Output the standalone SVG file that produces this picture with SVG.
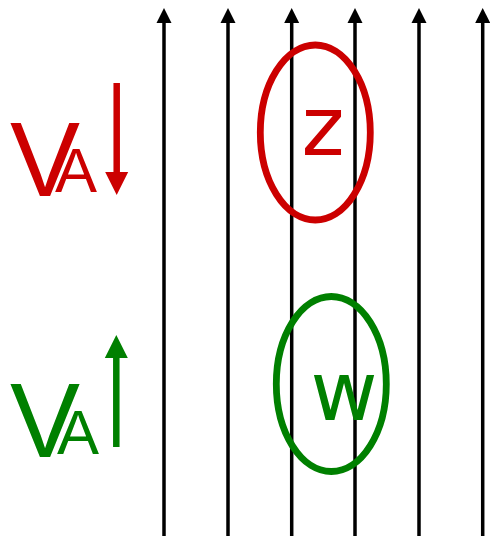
<svg xmlns="http://www.w3.org/2000/svg" width="490" height="536" viewBox="0 0 490 536">
<style>
.fl{stroke:#000;stroke-width:3.5;fill:none}
.t{font-family:"DejaVu Sans",sans-serif}
.s{font-family:"Liberation Sans",Arial,sans-serif}
.red{fill:#cc0000}
.grn{fill:#008000}
.big{font-size:105px}
.sub{font-size:63px}
</style>
<rect width="490" height="536" fill="#fff"/>
<g id="connectors">
<line class="fl" x1="164" y1="536" x2="164" y2="22"/>
<path d="M156.5,23 L164,8 L171.5,23 Z"/>
<line class="fl" x1="228" y1="536" x2="228" y2="22"/>
<path d="M220.5,23 L228,8 L235.5,23 Z"/>
<line class="fl" x1="291.7" y1="536" x2="291.7" y2="22"/>
<path d="M284.2,23 L291.7,8 L299.2,23 Z"/>
<line class="fl" x1="355" y1="536" x2="355" y2="22"/>
<path d="M347.5,23 L355,8 L362.5,23 Z"/>
<line class="fl" x1="419" y1="536" x2="419" y2="22"/>
<path d="M411.5,23 L419,8 L426.5,23 Z"/>
<line class="fl" x1="482.7" y1="536" x2="482.7" y2="22"/>
<path d="M475.2,23 L482.7,8 L490.2,23 Z"/>
</g>
<g id="z">
<ellipse cx="315.3" cy="132.5" rx="55" ry="87.5" fill="none" stroke="#cc0000" stroke-width="6.8"/>
<text class="t red" x="323" y="155" font-size="82" text-anchor="middle">z</text>
</g>
<g id="w">
<ellipse cx="331.3" cy="384" rx="55" ry="87.5" fill="none" stroke="#008000" stroke-width="6.8"/>
<text class="t grn" x="344" y="420" font-size="82" text-anchor="middle">w</text>
</g>
<g id="va-down">
<text class="s red big" x="10" y="195.5">V</text>
<text class="s red sub" x="55" y="192">A</text>
<line x1="116.7" y1="83" x2="116.7" y2="173" stroke="#cc0000" stroke-width="6.5"/>
<path d="M105.2,172 L116.7,195 L128.2,172 Z" fill="#cc0000"/>
</g>
<g id="va-up">
<text class="s grn big" x="10" y="456.5">V</text>
<text class="s grn sub" x="57" y="454">A</text>
<line x1="116.3" y1="447" x2="116.3" y2="357" stroke="#008000" stroke-width="6.5"/>
<path d="M104.8,358 L116.3,335 L127.8,358 Z" fill="#008000"/>
</g>
</svg>
